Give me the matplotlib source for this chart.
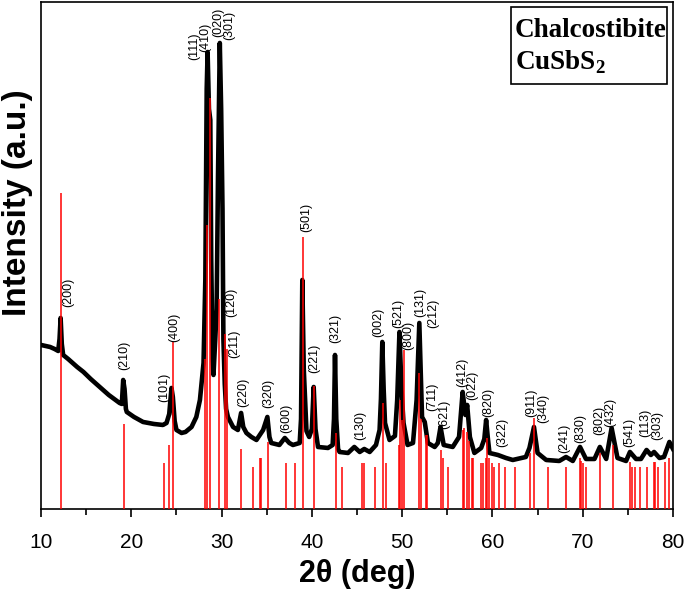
"""
XRD pattern of chalcostibite CuSbS2 with reference sticks and (hkl) labels
"""

import matplotlib
matplotlib.use("Agg")
import matplotlib.pyplot as plt
from matplotlib.patches import Rectangle
from matplotlib.ticker import MultipleLocator

# ============================================================================
# DATA (intensities in arbitrary units)
# ============================================================================
TWO_THETA = [
    10.0, 10.5, 11.0, 11.5, 11.9, 12.05, 12.17, 12.3, 12.45, 13.0,
    14.0, 14.7, 15.5, 16.5, 17.5, 18.7, 18.95, 19.1, 19.25, 19.4,
    19.5, 20.3, 21.3, 22.5, 23.5, 23.9, 24.2, 24.45, 24.6, 24.8,
    25.0, 25.56, 26.0, 26.67, 27.2, 27.6, 28.0, 28.2, 28.35, 28.45,
    28.6, 28.75, 28.85, 29.0, 29.1, 29.3, 29.45, 29.6, 29.8, 29.95,
    30.1, 30.2, 30.35, 30.5, 30.7, 31.27, 31.8, 32.16, 32.4, 32.75,
    33.3, 33.86, 34.6, 35.07, 35.3, 35.5, 36.4, 37.0, 37.5, 37.9,
    38.65, 38.8, 38.94, 39.1, 39.4, 39.7, 40.0, 40.2, 40.4, 40.68,
    41.78, 42.3, 42.45, 42.56, 42.7, 42.9, 43.07, 44.0, 44.7, 45.3,
    45.8, 46.4, 47.1, 47.5, 47.65, 47.8, 47.95, 48.1, 48.6, 49.2,
    49.45, 49.7, 49.93, 50.15, 50.6, 51.2, 51.6, 51.9, 52.2, 52.5,
    52.85, 53.6, 53.95, 54.25, 54.6, 55.6, 56.3, 56.7, 57.0, 57.2,
    57.5, 58.0, 58.75, 59.1, 59.3, 59.5, 59.67, 60.6, 61.5, 62.25,
    63.7, 64.1, 64.6, 65.0, 65.95, 67.4, 68.15, 68.9, 69.7, 70.36,
    71.3, 71.9, 72.6, 73.2, 73.85, 74.8, 75.23, 75.9, 76.45, 77.07,
    77.55, 77.9, 78.5, 79.0, 79.6, 80.0,
]
INTENSITY = [
    164, 163, 162, 160, 158, 170, 191, 165, 154, 150,
    142, 137, 130, 122, 114, 106, 105, 129, 120, 100,
    97, 92, 87, 85, 84, 86, 95, 121, 112, 88,
    79, 76, 77, 82, 92, 109, 146, 230, 420, 457,
    400, 389, 250, 150, 134, 170, 200, 331, 466, 400,
    300, 170, 125, 100, 92, 82, 79, 96, 82, 76,
    72, 69, 79, 92, 72, 66, 64, 71, 66, 64,
    66, 90, 229, 140, 78, 72, 80, 122, 80, 62,
    61, 64, 90, 154, 90, 60, 57, 56, 62, 57,
    60, 57, 64, 79, 110, 167, 120, 86, 69, 73,
    109, 177, 119, 86, 64, 66, 109, 186, 92, 87,
    66, 62, 66, 82, 64, 62, 72, 117, 94, 104,
    72, 56, 61, 70, 89, 70, 56, 54, 51, 49,
    52, 61, 82, 56, 49, 48, 52, 48, 62, 50,
    50, 62, 50, 81, 51, 48, 57, 50, 50, 59,
    54, 57, 51, 52, 67, 60,
]

# reference pattern (stick positions and heights)
REF_POS = [
    12.25, 19.15, 23.57, 24.2, 24.57, 28.2, 28.4, 28.7, 29.7, 30.4,
    30.6, 32.16, 33.49, 34.2, 34.35, 35.15, 37.18, 38.17, 39.02, 40.2,
    42.63, 43.33, 45.5, 45.75, 46.95, 47.87, 48.24, 49.6, 49.75, 49.97,
    50.15, 51.9, 52.1, 52.6, 52.7, 54.25, 54.5, 55.05, 56.72, 56.9,
    57.15, 57.38, 57.7, 57.85, 58.75, 59.0, 59.3, 59.4, 59.67, 59.97,
    60.2, 60.7, 61.44, 62.55, 64.17, 64.6, 66.2, 68.15, 69.7, 69.85,
    70.0, 70.4, 71.9, 73.3, 75.23, 75.5, 75.75, 76.37, 77.07, 77.9,
    78.0, 78.3, 79.1, 79.6,
]
REF_HEIGHT = [
    316, 85, 46, 64, 167, 150, 284, 411, 210, 175,
    160, 60, 42, 51, 51, 67, 46, 46, 272, 123,
    76, 42, 46, 46, 42, 106, 46, 64, 109, 89,
    159, 136, 90, 74, 74, 59, 51, 42, 79, 81,
    77, 68, 51, 51, 46, 46, 51, 71, 51, 46,
    42, 46, 42, 42, 56, 91, 42, 42, 51, 48,
    46, 42, 56, 64, 47, 42, 42, 42, 42, 47,
    47, 42, 47, 51,
]

# (hkl) labels: text, 2theta of label, height of label bottom
HKL_TEXT = [
    "(200)", "(210)", "(101)", "(400)", "(111)", "(410)", "(020)", "(301)",
    "(120)", "(211)", "(220)", "(320)", "(600)", "(501)", "(221)", "(321)",
    "(130)", "(002)", "(521)", "(800)", "(131)", "(212)", "(711)", "(621)",
    "(412)", "(022)", "(820)", "(322)", "(911)", "(340)", "(241)", "(830)",
    "(802)", "(432)", "(541)", "(113)", "(303)",
]
HKL_X = [
    13.0, 19.2, 23.6, 24.8, 27.0, 28.15, 29.65, 30.85,
    31.1, 31.45, 32.4, 35.15, 37.2, 39.4, 40.3, 42.6,
    45.36, 47.4, 49.6, 50.7, 52.0, 53.4, 53.3, 54.65,
    56.7, 57.8, 59.5, 61.1, 64.3, 65.6, 68.0, 69.7,
    71.8, 73.1, 75.2, 76.95, 78.2,
]
HKL_Y = [
    202, 139, 107, 167, 449, 457, 472, 469,
    192, 151, 102, 101, 76, 277, 136, 166,
    69, 172, 181, 159, 192, 181, 98, 80,
    122, 109, 92, 62, 92, 86, 56, 66,
    74, 82, 62, 72, 69,
]

PHASE_NAME = "Chalcostibite"
FORMULA = "CuSbS$_\\mathbf{2}$"

# ============================================================================
# PLOT
# ============================================================================
plt.rcParams["font.family"] = ["Liberation Sans", "DejaVu Sans"]
plt.rcParams["mathtext.fontset"] = "custom"
plt.rcParams["mathtext.rm"] = "Liberation Serif"
plt.rcParams["mathtext.bf"] = "Liberation Serif:bold"

fig = plt.figure(figsize=(6.85, 5.93), dpi=100)
ax = fig.add_axes([0.0599, 0.1417, 0.9226, 0.855])

ax.plot(TWO_THETA, INTENSITY, color="black", lw=3.3, solid_joinstyle="round", zorder=2)
ax.vlines(REF_POS, 0, REF_HEIGHT, color="#ff0000", lw=1.1, zorder=3)

for txt, x, y in zip(HKL_TEXT, HKL_X, HKL_Y):
    ax.text(x, y, txt, rotation=90, ha="center", va="bottom", fontsize=9, zorder=4)

ax.set_xlim(10, 80)
ax.set_ylim(0, 507)
ax.xaxis.set_major_locator(MultipleLocator(10))
ax.xaxis.set_minor_locator(MultipleLocator(5))
ax.set_yticks([])
ax.tick_params(axis="x", which="major", direction="out", length=6, width=1.2,
               labelsize=15, pad=11)
ax.tick_params(axis="x", which="minor", direction="out", length=4, width=1.2)
for sp in ax.spines.values():
    sp.set_linewidth(1.2)

ax.set_xlabel("2θ (deg)", fontsize=22, fontweight="bold", labelpad=5)
ax.set_ylabel("Intensity (a.u.)", fontsize=24, fontweight="bold")
ax.yaxis.set_label_coords(-0.012, 0.605)

# phase box in upper right
ax.add_patch(Rectangle((0.744, 0.838), 0.246, 0.152, transform=ax.transAxes,
                       fill=False, edgecolor="black", lw=1.2, zorder=5))
ax.text(0.750, 0.931, PHASE_NAME, transform=ax.transAxes, ha="left", va="baseline",
        fontsize=19.5, fontweight="bold", family="Liberation Serif")
ax.text(0.750, 0.866, FORMULA, transform=ax.transAxes, ha="left", va="baseline",
        fontsize=19.5, fontweight="bold", family="Liberation Serif")

fig.savefig("out.png", dpi=100)
